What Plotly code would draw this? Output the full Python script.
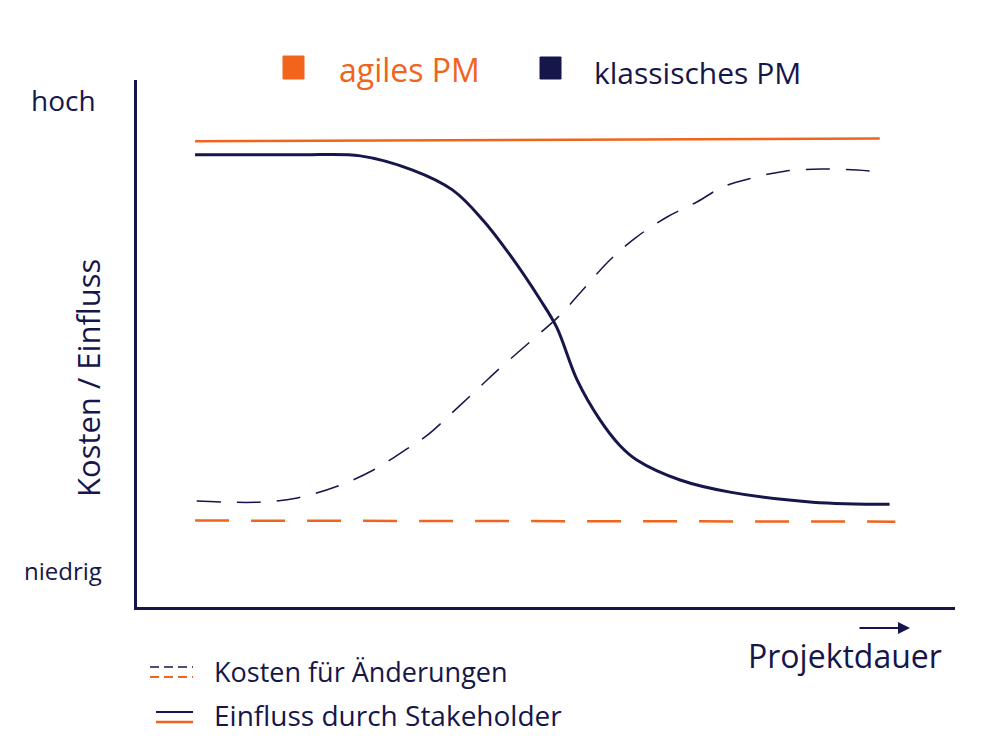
import plotly.graph_objects as go

# ---- data (x: Projektdauer 0-100, y: Kosten / Einfluss 0-100) ----
klassisch_einfluss_x = [7.1, 19.9, 27.3, 33.7, 38.6, 42.3, 45.6, 49.3, 51.3, 53.8, 56.6, 59.0, 61.1, 66.4, 72.5, 82.6, 92.0]
klassisch_einfluss_y = [85.8, 85.8, 85.6, 82.9, 79.1, 73.4, 66.8, 58.3, 53.1, 43.1, 35.5, 30.7, 27.9, 24.1, 21.8, 19.9, 19.5]

klassisch_kosten_x = [7.3, 15.0, 19.6, 24.8, 28.9, 32.8, 35.5, 38.9, 42.0, 44.0, 48.7, 51.6, 54.4, 57.6, 60.9, 64.8, 68.5, 71.6, 75.2, 79.2, 83.7, 88.0, 91.2]
klassisch_kosten_y = [20.1, 19.9, 20.7, 23.1, 26.0, 29.8, 32.6, 37.4, 41.9, 44.8, 51.2, 55.2, 60.0, 65.5, 70.0, 74.0, 76.9, 79.7, 81.4, 82.7, 83.1, 82.9, 82.5]

agil_einfluss_x = [7.1, 50.0, 90.8]
agil_einfluss_y = [88.4, 88.6, 88.9]

agil_kosten_x = [7.1, 50.0, 92.7]
agil_kosten_y = [16.4, 16.3, 16.2]

y_labels = ["niedrig", "hoch"]
legend_top = ["agiles PM", "klassisches PM"]
legend_bottom = ["Kosten für Änderungen", "Einfluss durch Stakeholder"]

ORANGE = "#F0641C"
NAVY = "#16164A"
FONT = "Open Sans"

fig = go.Figure()
fig.add_trace(go.Scatter(x=agil_einfluss_x, y=agil_einfluss_y, mode="lines",
                         line=dict(color=ORANGE, width=2.5), showlegend=False, hoverinfo="skip"))
fig.add_trace(go.Scatter(x=klassisch_einfluss_x, y=klassisch_einfluss_y, mode="lines", line_shape="spline",
                         line=dict(color=NAVY, width=3), showlegend=False, hoverinfo="skip"))
fig.add_trace(go.Scatter(x=klassisch_kosten_x, y=klassisch_kosten_y, mode="lines", line_shape="spline",
                         line=dict(color=NAVY, width=1.5, dash="24px,16px"), showlegend=False, hoverinfo="skip"))
fig.add_trace(go.Scatter(x=agil_kosten_x, y=agil_kosten_y, mode="lines",
                         line=dict(color=ORANGE, width=2.5, dash="34px,22px"), showlegend=False, hoverinfo="skip"))

L, R, T, B = 137, 45, 80, 143
W = 1000 - L - R
H = 750 - T - B

def px(x):
    return (x - L) / W

def py(y):
    return (750 - B - y) / H

def text(t, x, y, size, color=NAVY, xanchor="center", angle=0):
    return dict(text=t, x=px(x), y=py(y), xref="paper", yref="paper", xanchor=xanchor, yanchor="middle",
                textangle=angle, showarrow=False, font=dict(size=size, color=color, family=FONT))

ann = [
    text(y_labels[1], 63, 100, 28),
    text(y_labels[0], 63, 570, 24),
    text("Kosten / Einfluss", 88, 378, 31, angle=-90),
    text(legend_top[0], 337, 70, 32, color=ORANGE, xanchor="left"),
    text(legend_top[1], 592, 72, 30, xanchor="left"),
    text(legend_bottom[0], 212, 671, 27, xanchor="left"),
    text(legend_bottom[1], 212, 715, 28, xanchor="left"),
    text("Projektdauer", 845, 655, 32),
    dict(text="", x=px(910), y=py(628), xref="paper", yref="paper",
         showarrow=True, ax=-52, ay=0, arrowhead=2, arrowsize=1.2, arrowwidth=2, arrowcolor=NAVY),
]

shapes = [
    dict(type="rect", xref="paper", yref="paper", x0=px(283), x1=px(304), y0=py(79), y1=py(56),
         fillcolor=ORANGE, line=dict(color=ORANGE, width=1)),
    dict(type="rect", xref="paper", yref="paper", x0=px(540), x1=px(561), y0=py(79), y1=py(57),
         fillcolor=NAVY, line=dict(color=NAVY, width=1)),
    # bottom legend samples
    dict(type="line", xref="paper", yref="paper", x0=px(150), x1=px(193), y0=py(667), y1=py(667),
         line=dict(color=NAVY, width=1.5, dash="9px,5px")),
    dict(type="line", xref="paper", yref="paper", x0=px(150), x1=px(193), y0=py(677), y1=py(677),
         line=dict(color=ORANGE, width=2, dash="9px,5px")),
    dict(type="line", xref="paper", yref="paper", x0=px(156), x1=px(193), y0=py(712), y1=py(712),
         line=dict(color=NAVY, width=2)),
    dict(type="line", xref="paper", yref="paper", x0=px(156), x1=px(193), y0=py(722), y1=py(722),
         line=dict(color=ORANGE, width=2.5)),
]

fig.update_layout(
    width=1000, height=750,
    margin=dict(l=L, r=R, t=T, b=B),
    paper_bgcolor="white", plot_bgcolor="white",
    annotations=ann, shapes=shapes, showlegend=False,
    xaxis=dict(range=[0, 100], showgrid=False, zeroline=False, showticklabels=False, ticks="",
               showline=True, linecolor=NAVY, linewidth=2.5),
    yaxis=dict(range=[0, 100], showgrid=False, zeroline=False, showticklabels=False, ticks="",
               showline=True, linecolor=NAVY, linewidth=2.5),
)

fig.write_html("out.html")
